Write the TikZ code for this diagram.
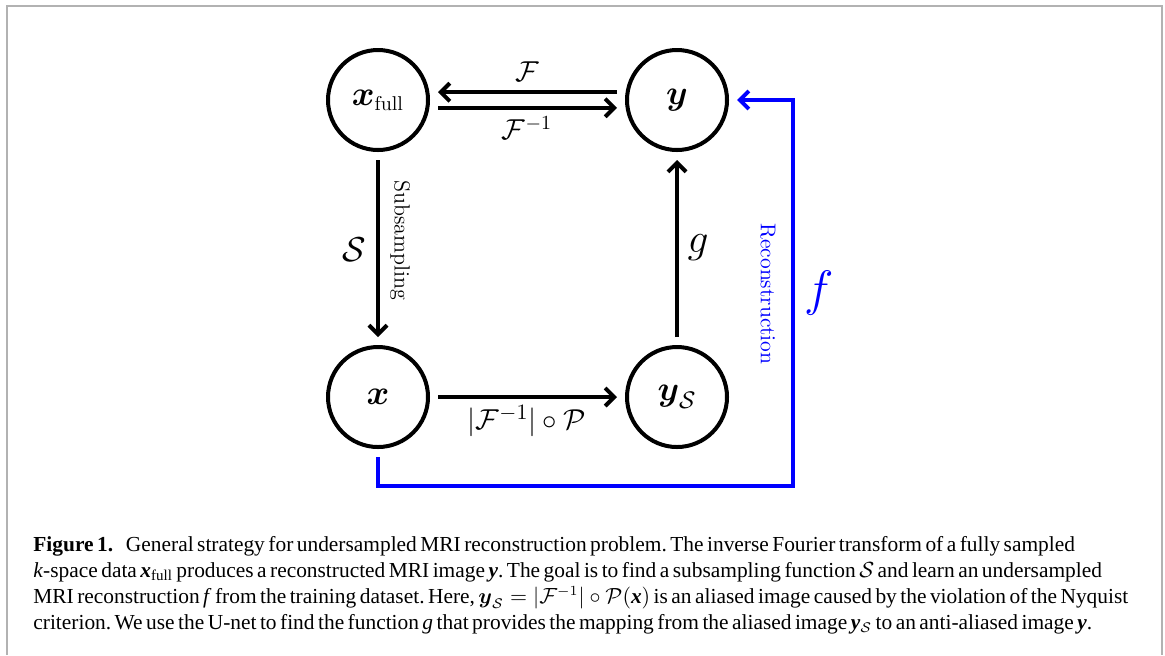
\documentclass[tikz,border=0pt]{standalone}
\usepackage{amsmath}
\usepackage[no-math]{fontspec}
\newfontfamily\capfont[WordSpace=0.65]{Liberation Serif}
\usetikzlibrary{arrows.meta}

\tikzset{
  state/.style={circle, draw, line width=2pt, minimum size=50pt, inner sep=0pt, outer sep=5pt, font=\LARGE},
  map/.style={line width=2pt, -{Straight Barb[length=4.5pt,width=9pt]}},
  recon/.style={map, blue},
  caption/.style={anchor=base west, inner sep=0pt, font=\capfont\fontsize{10.7}{13}\selectfont\frenchspacing},
}

\begin{document}
\begin{tikzpicture}[x=0.5pt, y=-0.5pt]
  \useasboundingbox (0,0) rectangle (1165,655);
  % open frame round the figure
  \draw[line width=1pt, black!30] (7,655) -- (7,6) -- (1162,6) -- (1162,655);

  % the four states
  \node[state] (xfull) at (378,100) {$\boldsymbol{x}_{\scriptscriptstyle\mathrm{full}}$};
  \node[state] (y)     at (677,100) {$\boldsymbol{y}$};
  \node[state] (x)     at (378,397) {$\boldsymbol{x}$};
  \node[state] (ys)    at (677,397) {$\boldsymbol{y}_{\mathcal{S}}$};

  % Fourier pair
  \draw[map] ([yshift=3.9pt]y.west) -- ([yshift=3.9pt]xfull.east);
  \draw[map] ([yshift=-3.9pt]xfull.east) -- ([yshift=-3.9pt]y.west);
  \node[font=\Large] (lF)    at (527,72)  {$\mathcal{F}$};
  \node[font=\Large] (lFinv) at (527,128) {$\mathcal{F}^{-1}$};

  % subsampling
  \draw[map] (xfull) -- (x);
  \node[font=\LARGE] (lS) at (354,250) {$\mathcal{S}$};
  \node[rotate=-90, font=\fontsize{11}{13}\selectfont] (lsub) at (400,240) {Subsampling};

  % aliased image
  \draw[map] (x) -- (ys);
  \node[font=\fontsize{15.6}{18}\selectfont] (lFP) at (527,421) {$|\mathcal{F}^{-1}|\circ\mathcal{P}$};

  % U-net
  \draw[map] (ys) -- (y);
  \node[font=\huge] (lg) at (698,248) {$g$};

  % reconstruction loop
  \coordinate (corner) at (793,486);
  \draw[recon] (x.south) |- (corner) |- (y.east);
  \node[rotate=-90, blue, font=\fontsize{10.7}{12}\selectfont] (lrec) at (768,294) {Reconstruction};
  \node[blue, font=\Huge] (lf) at (819,293) {$f$};

  % caption
  \node[caption] (cap1) at (33,551) {\textbf{Figure 1.}\hspace{0.6em}General strategy for undersampled MRI reconstruction problem. The inverse Fourier transform of a fully sampled};
  \node[caption] (cap2) at (33,577) {\textit{k}-space data \textbf{\textit{x}}\textsubscript{full} produces a reconstructed MRI image \textbf{\textit{y}}. The goal is to find a subsampling function $\mathcal{S}$ and learn an undersampled};
  \node[caption] (cap3) at (33,603) {MRI reconstruction \textit{f} from the training dataset. Here, $\boldsymbol{y}_{\mathcal{S}} = |\mathcal{F}^{-1}| \circ \mathcal{P}($\textbf{\textit{x}}$)$ is an aliased image caused by the violation of the Nyquist};
  \node[caption] (cap4) at (33,629) {criterion. We use the U-net to find the function \textit{g} that provides the mapping from the aliased image \textbf{\textit{y}}$_{\mathcal{S}}$ to an anti-aliased image \textbf{\textit{y}}.};
\end{tikzpicture}
\end{document}
